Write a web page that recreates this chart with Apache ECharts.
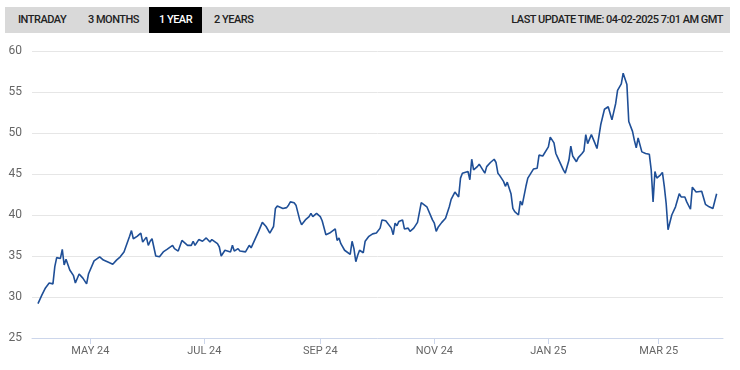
<!DOCTYPE html>
<html>
<head>
<meta charset="utf-8">
<script src="https://cdn.jsdelivr.net/npm/echarts@6/dist/echarts.min.js"></script>
<style>
  html, body { margin: 0; padding: 0; background: #fff; }
  #wrap { position: relative; width: 740px; height: 370px; overflow: hidden; }
  #chart { position: absolute; left: 0; top: 0; width: 740px; height: 370px; }
  #bar { position: absolute; left: 5px; top: 7px; width: 725px; height: 26px; background: #d9d9d9;
         font-family: Roboto, "Liberation Sans", sans-serif; font-weight: 500; font-size: 11px; color: #222;
         letter-spacing: -0.5px; }
  #bar span { position: absolute; top: 0; height: 26px; line-height: 26px; }
  #bar .on { background: #000; color: #fff; text-align: center; }
</style>
</head>
<body>
<div id="wrap">
  <div id="chart"></div>
  <div id="bar">
    <span style="left:13px">INTRADAY</span>
    <span style="left:83px">3 MONTHS</span>
    <span class="on" style="left:144px;width:53px">1 YEAR</span>
    <span style="left:209px">2 YEARS</span>
    <span style="right:7px">LAST UPDATE TIME: 04-02-2025 7:01 AM GMT</span>
  </div>
</div>
<script>
const dates = [
'2024-04-03','2024-04-05','2024-04-07','2024-04-09','2024-04-10','2024-04-11','2024-04-12','2024-04-13','2024-04-14','2024-04-15',
'2024-04-16','2024-04-17','2024-04-18','2024-04-20','2024-04-22','2024-04-23','2024-04-25','2024-04-27','2024-04-29','2024-04-30',
'2024-05-01','2024-05-03','2024-05-04','2024-05-06','2024-05-08','2024-05-09','2024-05-11','2024-05-13','2024-05-15','2024-05-16',
'2024-05-17','2024-05-19','2024-05-20','2024-05-22','2024-05-23','2024-05-24','2024-05-26','2024-05-28','2024-05-29','2024-05-31',
'2024-06-01','2024-06-02','2024-06-03','2024-06-05','2024-06-06','2024-06-07','2024-06-09','2024-06-11','2024-06-12','2024-06-14',
'2024-06-15','2024-06-17','2024-06-19','2024-06-22','2024-06-24','2024-06-25','2024-06-26','2024-06-28','2024-06-30','2024-07-01',
'2024-07-02','2024-07-04','2024-07-05','2024-07-08','2024-07-09','2024-07-10','2024-07-12','2024-07-15','2024-07-16','2024-07-17',
'2024-07-19','2024-07-20','2024-07-23','2024-07-25','2024-07-26','2024-07-28','2024-07-30','2024-08-01','2024-08-03','2024-08-05',
'2024-08-07','2024-08-08','2024-08-09','2024-08-12','2024-08-14','2024-08-15','2024-08-16','2024-08-18','2024-08-19','2024-08-21',
'2024-08-22','2024-08-24','2024-08-26','2024-08-27','2024-08-28','2024-08-30','2024-09-01','2024-09-02','2024-09-04','2024-09-06',
'2024-09-09','2024-09-10','2024-09-11','2024-09-12','2024-09-13','2024-09-14','2024-09-17','2024-09-18','2024-09-19','2024-09-20',
'2024-09-21','2024-09-22','2024-09-24','2024-09-25','2024-09-27','2024-09-29','2024-10-01','2024-10-02','2024-10-03','2024-10-04',
'2024-10-06','2024-10-07','2024-10-09','2024-10-10','2024-10-11','2024-10-12','2024-10-13','2024-10-15','2024-10-16','2024-10-18',
'2024-10-19','2024-10-21','2024-10-23','2024-10-25','2024-10-28','2024-10-29','2024-10-31','2024-11-01','2024-11-02','2024-11-03',
'2024-11-05','2024-11-06','2024-11-07','2024-11-09','2024-11-10','2024-11-12','2024-11-14','2024-11-15','2024-11-16','2024-11-17',
'2024-11-19','2024-11-20','2024-11-21','2024-11-22','2024-11-24','2024-11-25','2024-11-26','2024-11-28','2024-11-29','2024-12-01',
'2024-12-03','2024-12-04','2024-12-05','2024-12-06','2024-12-08','2024-12-09','2024-12-10','2024-12-12','2024-12-13','2024-12-14',
'2024-12-16','2024-12-17','2024-12-18','2024-12-20','2024-12-21','2024-12-24','2024-12-26','2024-12-27','2024-12-29','2024-12-30',
'2025-01-01','2025-01-02','2025-01-04','2025-01-05','2025-01-06','2025-01-07','2025-01-09','2025-01-10','2025-01-11','2025-01-12',
'2025-01-13','2025-01-14','2025-01-15','2025-01-16','2025-01-17','2025-01-19','2025-01-20','2025-01-21','2025-01-22','2025-01-24',
'2025-01-26','2025-01-27','2025-01-28','2025-01-29','2025-01-30','2025-01-31','2025-02-02','2025-02-03','2025-02-04','2025-02-05',
'2025-02-06','2025-02-07','2025-02-09','2025-02-10','2025-02-11','2025-02-12','2025-02-13','2025-02-15','2025-02-16','2025-02-17',
'2025-02-18','2025-02-20','2025-02-22','2025-02-24','2025-02-25','2025-02-26','2025-02-27','2025-02-28','2025-03-02','2025-03-03',
'2025-03-04','2025-03-05','2025-03-06','2025-03-08','2025-03-10','2025-03-11','2025-03-12','2025-03-13','2025-03-14','2025-03-15',
'2025-03-16','2025-03-18','2025-03-19','2025-03-21','2025-03-22','2025-03-24','2025-03-26','2025-03-27','2025-03-28','2025-03-30',
'2025-03-31','2025-04-01'
];
const prices = [
29.2,30.2,31.1,31.7,31.7,31.6,33.7,34.8,34.7,34.7,
35.8,33.9,34.6,33.3,32.6,31.7,32.8,32.3,31.6,32.8,
32.6,34.4,34.3,34.9,34.5,34.6,34.2,34.0,34.5,34.3,
34.9,35.5,35.7,37.4,38.1,37.1,37.4,37.8,36.7,37.3,
36.3,36.8,37.1,35.0,34.8,34.9,35.5,35.8,35.6,36.3,
35.9,35.6,36.9,36.3,36.3,36.8,36.3,37.0,36.8,36.6,
37.2,36.7,37.0,36.5,36.1,35.0,35.7,35.5,36.3,35.6,
35.9,35.6,35.5,36.3,36.0,37.0,38.0,39.1,38.6,37.8,
38.6,40.8,41.1,40.8,40.9,41.2,41.6,41.5,41.2,39.4,
38.8,39.4,39.8,40.2,39.8,40.2,39.8,39.3,37.6,37.8,
38.3,36.9,37.2,36.5,36.7,35.7,35.2,36.8,35.9,34.3,
35.1,35.7,35.4,36.8,37.4,37.7,37.8,37.7,38.4,39.4,
39.3,39.1,38.4,37.6,39.0,38.7,39.2,39.4,38.3,38.4,
38.0,38.4,39.1,41.5,41.0,41.2,39.4,39.0,38.0,38.5,
39.1,39.2,39.6,41.0,41.9,42.8,42.2,44.5,45.1,45.0,
45.3,44.3,46.8,45.5,45.9,46.2,46.0,45.1,45.9,46.4,
46.8,46.4,45.1,44.8,44.1,43.5,44.0,42.6,40.8,40.4,
40.0,41.7,41.2,43.5,44.5,45.6,45.7,47.3,47.2,47.2,
48.3,49.5,48.8,47.5,47.0,47.1,45.5,45.1,45.3,46.7,
48.4,47.2,47.0,46.5,47.0,47.5,47.8,49.8,48.7,49.8,
48.7,48.1,48.2,51.0,51.2,52.9,53.2,53.4,51.6,52.6,
53.6,55.2,56.0,57.3,57.4,55.9,51.4,50.2,49.1,48.2,
49.4,47.7,47.5,47.4,45.5,41.6,45.3,44.5,44.9,45.2,
43.5,41.4,38.2,40.0,41.0,41.2,42.6,42.2,42.0,42.2,
41.6,40.7,43.4,42.8,42.8,42.9,41.3,41.5,41.0,40.8,
40.7,42.6
];
const tickDates = ['2024-05-01','2024-07-01','2024-09-01','2024-11-01','2025-01-01','2025-03-01'];
const tickLabels = ['MAY 24','JUL 24','SEP 24','NOV 24','JAN 25','MAR 25'];

const DAY = 86400000;
const ts = s => { const p = s.split('-').map(Number); return Date.UTC(p[0], p[1] - 1, p[2]); };
const tickTs = tickDates.map(ts);
const labelOf = {};
tickTs.forEach((t, i) => { labelOf[t] = tickLabels[i]; });

const chart = echarts.init(document.getElementById('chart'), null, { renderer: 'canvas' });
chart.setOption({
  animation: false,
  grid: { left: 32, right: 17, top: 51, bottom: 32, containLabel: false },
  xAxis: {
    type: 'value',
    min: ts('2024-03-31') - 0.2 * DAY,
    max: ts('2025-04-04') + 0.4 * DAY,
    axisLine: { show: true, onZero: false, lineStyle: { color: '#ccd6eb', width: 1 } },
    axisTick: { show: true, length: 6, lineStyle: { color: '#ccd6eb', width: 1 }, customValues: tickTs },
    axisLabel: {
      customValues: tickTs,
      formatter: v => labelOf[v] || '',
      color: '#666', fontSize: 11, fontFamily: 'Roboto, sans-serif', margin: 8,
      hideOverlap: false
    },
    splitLine: { show: false }
  },
  yAxis: {
    type: 'value', min: 25, max: 60, interval: 5,
    axisLine: { show: false }, axisTick: { show: false },
    axisLabel: { color: '#666', fontSize: 12, fontFamily: 'Roboto, sans-serif', margin: 10 },
    splitLine: { lineStyle: { color: '#e6e6e6', width: 1 } }
  },
  series: [{
    type: 'line',
    data: dates.map((d, i) => [ts(d), prices[i]]),
    showSymbol: false, symbol: 'none',
    lineStyle: { color: '#1f4f97', width: 1.6 },
    emphasis: { disabled: true }
  }]
});
</script>
</body>
</html>
